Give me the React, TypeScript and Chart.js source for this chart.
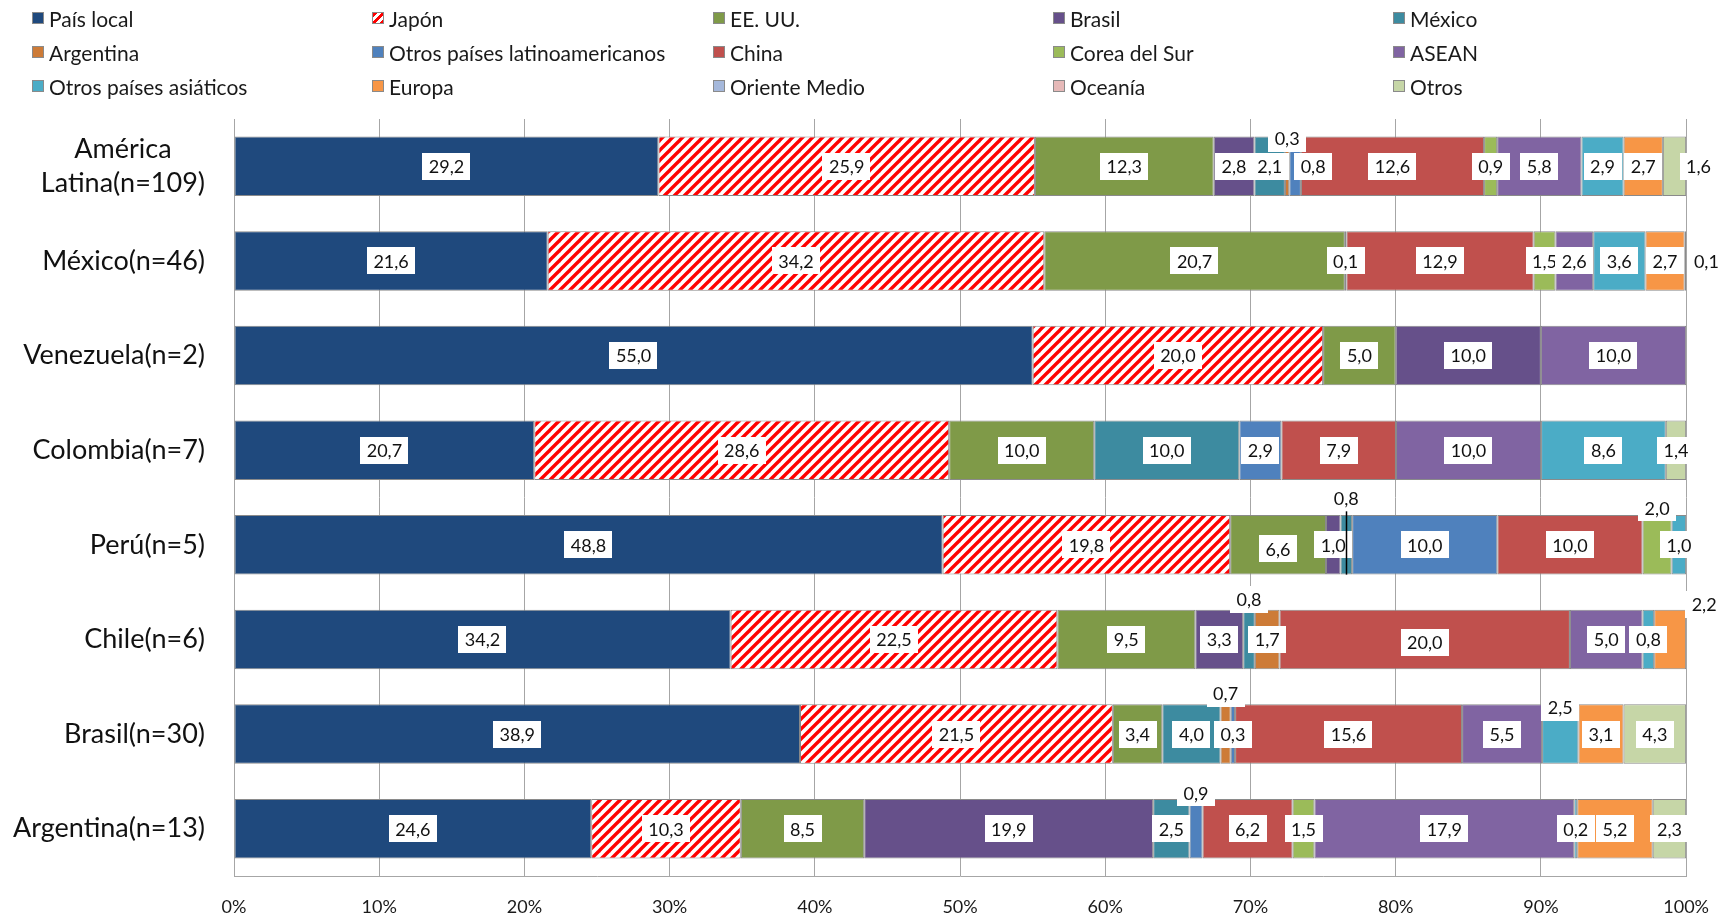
import React, { useEffect, useRef } from 'react';
import { Chart, registerables } from 'chart.js';

Chart.register(...registerables);

const W = 1729;
const H = 923;
const FONT = 'Lato, "Open Sans", sans-serif';

// ---- data ----
const categories: (string | string[])[] = [
  ['América', 'Latina(n=109)'],
  'México(n=46)',
  'Venezuela(n=2)',
  'Colombia(n=7)',
  'Perú(n=5)',
  'Chile(n=6)',
  'Brasil(n=30)',
  'Argentina(n=13)',
];

const seriesNames = [
  'País local',
  'Japón',
  'EE. UU.',
  'Brasil',
  'México',
  'Argentina',
  'Otros países latinoamericanos',
  'China',
  'Corea del Sur',
  'ASEAN',
  'Otros países asiáticos',
  'Europa',
  'Oriente Medio',
  'Oceanía',
  'Otros',
];

const paisLocal = [29.2, 21.6, 55.0, 20.7, 48.8, 34.2, 38.9, 24.6];
const japon = [25.9, 34.2, 20.0, 28.6, 19.8, 22.5, 21.5, 10.3];
const eeuu = [12.3, 20.7, 5.0, 10.0, 6.6, 9.5, 3.4, 8.5];
const brasil = [2.8, 0, 10.0, 0, 1.0, 3.3, 0, 19.9];
const mexico = [2.1, 0, 0, 10.0, 0.8, 0.8, 4.0, 2.5];
const argentina = [0.3, 0, 0, 0, 0, 1.7, 0.7, 0];
const otrosLatam = [0.8, 0.1, 0, 2.9, 10.0, 0, 0.3, 0.9];
const china = [12.6, 12.9, 0, 7.9, 10.0, 20.0, 15.6, 6.2];
const corea = [0.9, 1.5, 0, 0, 2.0, 0, 0, 1.5];
const asean = [5.8, 2.6, 10.0, 10.0, 0, 5.0, 5.5, 17.9];
const otrosAsia = [2.9, 3.6, 0, 8.6, 1.0, 0.8, 2.5, 0.2];
const europa = [2.7, 2.7, 0, 0, 0, 2.2, 3.1, 5.2];
const orienteMedio = [0, 0, 0, 0, 0, 0, 0, 0];
const oceania = [0, 0, 0, 0, 0, 0, 0, 0];
const otros = [1.6, 0.1, 0, 1.4, 0, 0, 4.3, 2.3];

const seriesValues = [
  paisLocal, japon, eeuu, brasil, mexico, argentina, otrosLatam, china,
  corea, asean, otrosAsia, europa, orienteMedio, oceania, otros,
];

const xTicks = [0, 10, 20, 30, 40, 50, 60, 70, 80, 90, 100];

// ---- styles ----
const seriesColors = [
  '#1F497D', 'PATTERN', '#7F9A48', '#66508A', '#3D8BA0', '#CD7B37', '#4F81BD', '#C0504D',
  '#9BBB59', '#8064A2', '#4BACC6', '#F79646', '#A5B8DB', '#E6B9B8', '#C6D6A7',
];

// label placement tweaks: "row-series" -> offsets in px
const labelOffsets: Record<string, { dx?: number; dy?: number; leader?: boolean }> = {
  '0-5': { dy: -28 },
  '0-6': { dx: 18 },
  '0-14': { dx: 24 },
  '1-14': { dx: 21 },
  '4-2': { dy: 4 },
  '4-4': { dy: -47, leader: true },
  '4-8': { dy: -37 },
  '5-4': { dy: -40 },
  '5-7': { dy: 3 },
  '5-11': { dx: 34, dy: -35 },
  '6-5': { dy: -41 },
  '6-10': { dy: -27 },
  '7-6': { dy: -36 },
};

const legendColX = [32, 372, 713, 1053, 1393];
const legendRowY = [18, 52, 86];

function makePattern(): CanvasPattern | string {
  const c = document.createElement('canvas');
  const s = 10;
  c.width = s;
  c.height = s;
  const g = c.getContext('2d');
  if (!g) return '#ff0000';
  g.fillStyle = '#ffffff';
  g.fillRect(0, 0, s, s);
  g.strokeStyle = '#ff0000';
  g.lineWidth = 3.4;
  g.lineCap = 'square';
  for (const o of [-s, 0, s]) {
    g.beginPath();
    g.moveTo(o, s);
    g.lineTo(o + s, 0);
    g.stroke();
  }
  const p = g.createPattern(c, 'repeat');
  return p || '#ff0000';
}

const fmt = (v: number) => v.toFixed(1).replace('.', ',');

const dataLabelPlugin = {
  id: 'dataLabels',
  afterDatasetsDraw(chart: any) {
    const ctx: CanvasRenderingContext2D = chart.ctx;
    ctx.save();
    ctx.font = `18px ${FONT}`;
    ctx.textAlign = 'center';
    ctx.textBaseline = 'middle';
    seriesValues.forEach((vals, si) => {
      const meta = chart.getDatasetMeta(si);
      vals.forEach((v, ri) => {
        if (!v) return;
        const bar: any = meta.data[ri];
        if (!bar) return;
        const off = labelOffsets[`${ri}-${si}`] || {};
        const cx = (bar.x + bar.base) / 2 + (off.dx || 0);
        const cy = bar.y + (off.dy || 0);
        const txt = fmt(v);
        const tw = ctx.measureText(txt).width;
        const bw = tw + 13;
        const bh = 27;
        if (off.leader) {
          ctx.strokeStyle = '#000';
          ctx.lineWidth = 1.5;
          ctx.beginPath();
          ctx.moveTo(Math.round(cx) + 0.5, cy + bh / 2);
          ctx.lineTo(Math.round(cx) + 0.5, bar.y + bar.height / 2);
          ctx.stroke();
        }
        ctx.fillStyle = '#ffffff';
        ctx.fillRect(Math.round(cx - bw / 2), Math.round(cy - bh / 2), Math.round(bw), bh);
        ctx.fillStyle = '#111111';
        ctx.fillText(txt, cx, cy + 1);
      });
    });
    ctx.restore();
  },
};

const yLabelPlugin = {
  id: 'yLabels',
  afterDraw(chart: any) {
    const ctx: CanvasRenderingContext2D = chart.ctx;
    const scale = chart.scales.y;
    const right = 205;
    const lh = 34;
    ctx.save();
    ctx.font = `27px ${FONT}`;
    ctx.fillStyle = '#111111';
    ctx.textBaseline = 'middle';
    categories.forEach((lab, i) => {
      const y = scale.getPixelForValue(i);
      if (Array.isArray(lab)) {
        const widest = Math.max(...lab.map((l) => ctx.measureText(l).width));
        const cx = right - widest / 2;
        ctx.textAlign = 'center';
        lab.forEach((l, k) => {
          ctx.fillText(l, cx, y + (k - (lab.length - 1) / 2) * lh);
        });
      } else {
        ctx.textAlign = 'right';
        ctx.fillText(lab, right, y);
      }
    });
    ctx.restore();
  },
};

function LegendBox({ idx }: { idx: number }) {
  const col = seriesColors[idx];
  const bg =
    col === 'PATTERN'
      ? 'repeating-linear-gradient(135deg, #ff0000 0px, #ff0000 3px, #ffffff 3px, #ffffff 6px)'
      : col;
  return (
    <span
      style={{
        display: 'inline-block',
        width: 10,
        height: 10,
        border: '1px solid #8a8a8a',
        background: bg,
        marginRight: 5,
        flex: '0 0 auto',
      }}
    />
  );
}

export default function App() {
  const ref = useRef<HTMLCanvasElement | null>(null);

  useEffect(() => {
    if (!ref.current) return;
    const pattern = makePattern();
    const rowSums = categories.map((_, ri) => seriesValues.reduce((s, arr) => s + arr[ri], 0));
    const datasets = seriesNames.map((name, si) => ({
      label: name,
      data: seriesValues[si].map((v, ri) => (v / rowSums[ri]) * 100),
      backgroundColor: seriesColors[si] === 'PATTERN' ? pattern : seriesColors[si],
      borderColor: '#8a8a8a',
      borderWidth: 1,
      borderSkipped: false,
      barPercentage: 0.63,
      categoryPercentage: 1,
    }));
    const chart = new Chart(ref.current, {
      type: 'bar',
      data: { labels: categories.map((c) => (Array.isArray(c) ? c.join(' ') : c)), datasets: datasets as any },
      options: {
        animation: false,
        responsive: false,
        indexAxis: 'y',
        layout: { padding: { top: 119, right: 42, left: 0, bottom: 0 } },
        plugins: { legend: { display: false }, tooltip: { enabled: false } },
        scales: {
          x: {
            stacked: true,
            min: 0,
            max: 100,
            afterBuildTicks: (s: any) => {
              s.ticks = xTicks.map((v) => ({ value: v }));
            },
            ticks: {
              callback: (v: any) => `${v}%`,
              font: { family: FONT, size: 18 },
              color: '#1a1a1a',
              padding: 20,
              maxRotation: 0,
            },
            grid: { color: '#a6a6a6', drawTicks: false, lineWidth: 1 },
            border: { color: '#a6a6a6' },
            afterFit: (s: any) => {
              s.height = 47;
            },
          },
          y: {
            stacked: true,
            ticks: { display: false },
            grid: { display: false, drawTicks: false },
            border: { display: true, color: '#a6a6a6' },
            afterFit: (s: any) => {
              s.width = 234;
            },
          },
        },
      } as any,
      plugins: [dataLabelPlugin, yLabelPlugin],
    });
    return () => chart.destroy();
  }, []);

  return (
    <div style={{ position: 'absolute', left: 0, top: 0, width: W, height: H, background: '#fff' }}>
      <canvas ref={ref} width={W} height={H} style={{ position: 'absolute', left: 0, top: 0, width: W, height: H }} />
      {seriesNames.map((name, i) => (
        <div
          key={name}
          style={{
            position: 'absolute',
            left: legendColX[i % 5],
            top: legendRowY[Math.floor(i / 5)] - 12,
            height: 24,
            display: 'flex',
            alignItems: 'center',
            fontFamily: FONT,
            fontSize: 21,
            color: '#1a1a1a',
            whiteSpace: 'nowrap',
          }}
        >
          <LegendBox idx={i} />
          <span>{name}</span>
        </div>
      ))}
    </div>
  );
}
